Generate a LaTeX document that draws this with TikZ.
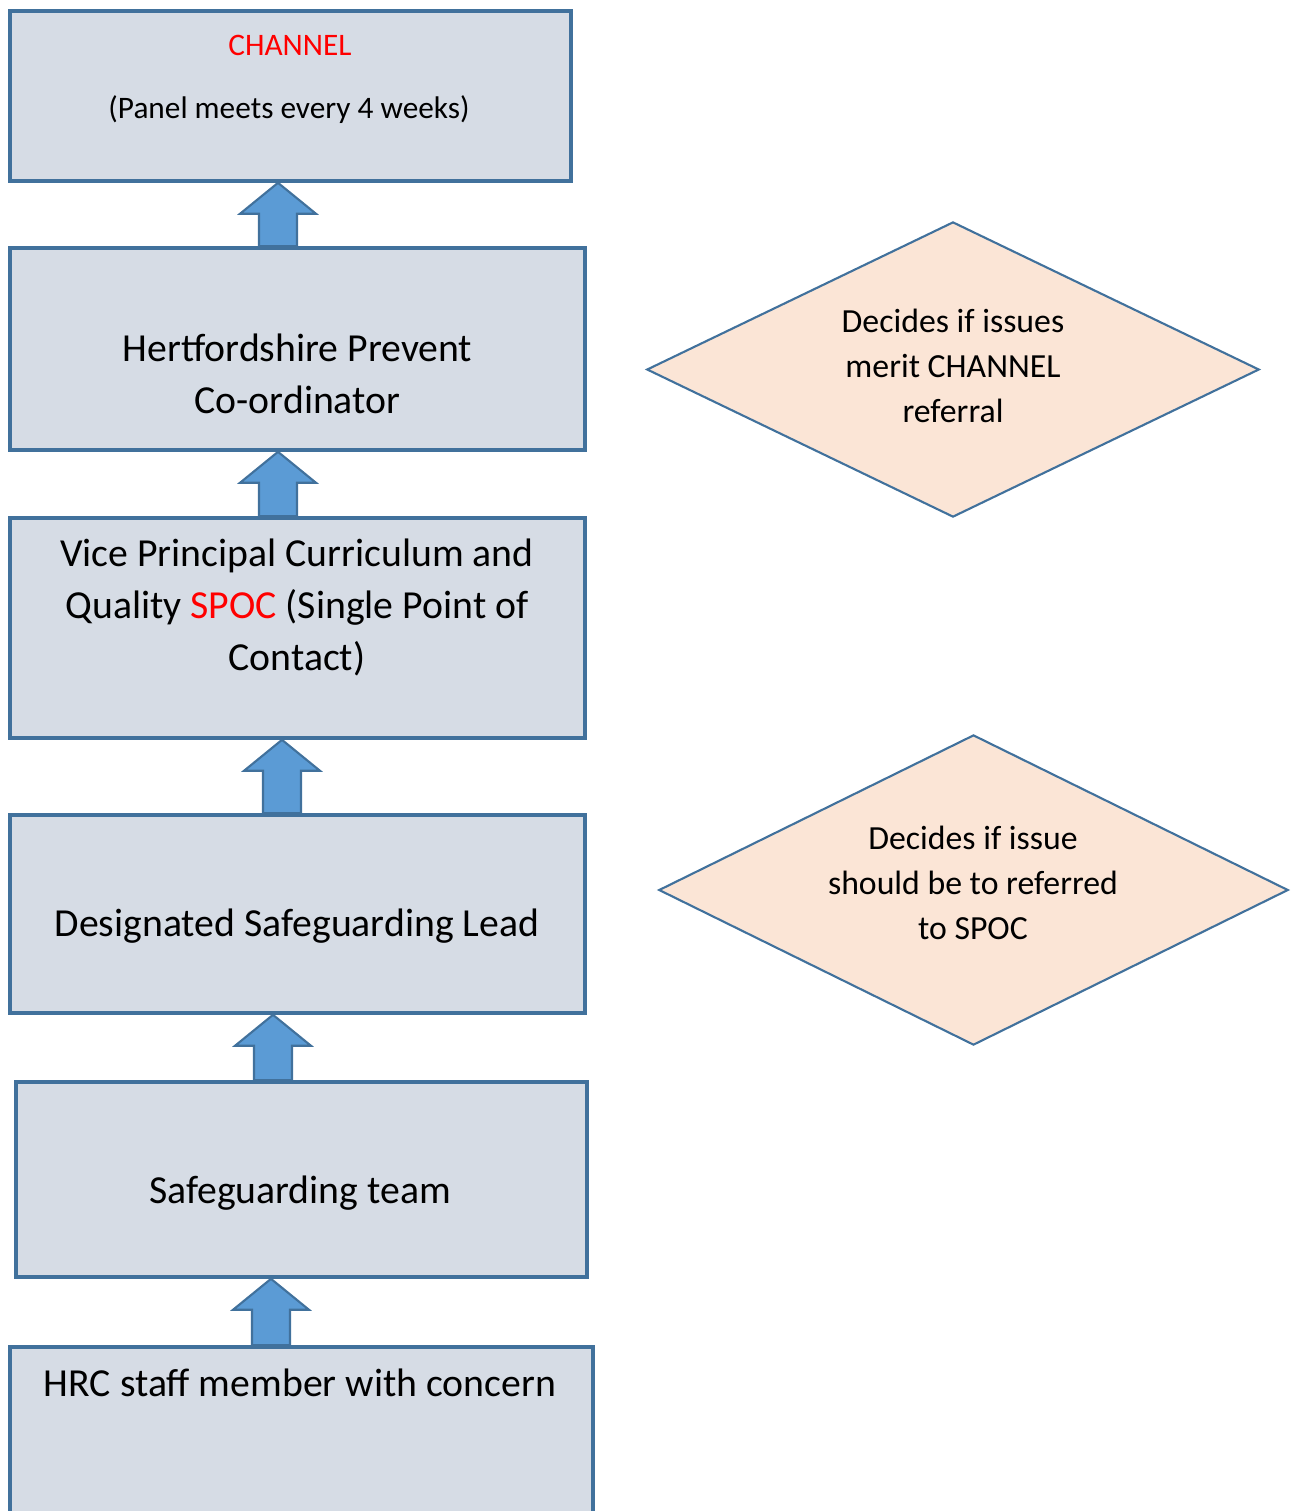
\documentclass[tikz,border=0pt]{standalone}
\usepackage{fontspec}
\setmainfont{Carlito}
\usetikzlibrary{shapes.geometric}
\usetikzlibrary{calc}
\usepackage{xcolor}
\definecolor{boxfill}{HTML}{D6DCE5}
\definecolor{boxline}{HTML}{41719C}
\definecolor{arrowfill}{HTML}{5B9BD5}
\definecolor{decfill}{HTML}{FBE5D6}
\definecolor{chred}{HTML}{FF0000}

% block arrow pointing up, from base coordinate #1 to tip coordinate #2
\newcommand{\blockup}[2]{%
  \filldraw[blockarrow] let \p1=(#1), \p2=(#2) in
    (\x1-5.4pt,\y1) -- (\x1-5.4pt,\y2-8.8pt) -- (\x1-10.8pt,\y2-8.8pt) -- (\x1,\y2)
    -- (\x1+10.8pt,\y2-8.8pt) -- (\x1+5.4pt,\y2-8.8pt) -- (\x1+5.4pt,\y1) -- cycle;}

\begin{document}
\begin{tikzpicture}[x=0.01cm,y=-0.01cm,
    panel/.style={draw=boxline, line width=1pt, fill=boxfill, rectangle, inner sep=0pt},
    big/.style={inner sep=0pt, align=center, font=\fontsize{11.3}{14.8}\selectfont},
    small/.style={inner sep=0pt, align=center, font=\fontsize{8.9}{12.5}\selectfont},
    decision/.style={draw=boxline, line width=0.6pt, fill=decfill, diamond, aspect=2, inner sep=0pt},
    dectext/.style={inner sep=0pt, align=center, font=\fontsize{9.6}{12.7}\selectfont},
    blockarrow/.style={draw=boxline, line width=0.6pt, fill=arrowfill}]
    \useasboundingbox (0,0) rectangle (1301,1511);

            \node[panel, minimum width=5.61cm, minimum height=1.70cm] (channel) at (290.5,96) {};
            \node[small, text=chred] (channeltitle) at (290,45) {CHANNEL};
            \node[small] (channelnote) at (289,110) {(Panel meets every 4 weeks)};

            \node[panel, minimum width=5.75cm, minimum height=2.02cm] (hpc) at (297.5,349) {};
            \node[big] (hpctext) at (297.5,374) {Hertfordshire Prevent\\Co-ordinator};

            \node[panel, minimum width=5.75cm, minimum height=2.20cm] (spoc) at (297.5,628) {};
            \node[big] (spoctext) at (297,607) {Vice Principal Curriculum and\\Quality \textcolor{chred}{SPOC} (Single Point of\\Contact)};

            \node[panel, minimum width=5.75cm, minimum height=1.98cm] (dsl) at (297.5,914) {};
            \node[big] (dsltext) at (297,926) {Designated Safeguarding Lead};

            \node[panel, minimum width=5.71cm, minimum height=1.95cm] (team) at (301.5,1179.5) {};
            \node[big] (teamtext) at (300,1193) {Safeguarding team};

            \node[panel, minimum width=5.83cm, minimum height=2.12cm] (staff) at (301.5,1453) {};
            \node[big] (stafftext) at (300,1383) {HRC staff member with concern};

            \blockup{278,0 |- hpc.north}{278,0 |- channel.south}
            \blockup{278,0 |- spoc.north}{278,0 |- hpc.south}
            \blockup{282,0 |- dsl.north}{282,0 |- spoc.south}
            \blockup{273,0 |- team.north}{273,0 |- dsl.south}
            \blockup{271,0 |- staff.north}{271,0 |- team.south}

            \node[decision, minimum width=6.12cm, minimum height=2.95cm] (merit) at (953,369.5) {};
            \node[dectext] (merittext) at (953,366) {Decides if issues\\merit CHANNEL\\referral};
            \node[decision, minimum width=6.29cm, minimum height=3.10cm] (refer) at (973.5,890) {};
            \node[dectext] (refertext) at (973,883) {Decides if issue\\should be to referred\\to SPOC};
\end{tikzpicture}
\end{document}
